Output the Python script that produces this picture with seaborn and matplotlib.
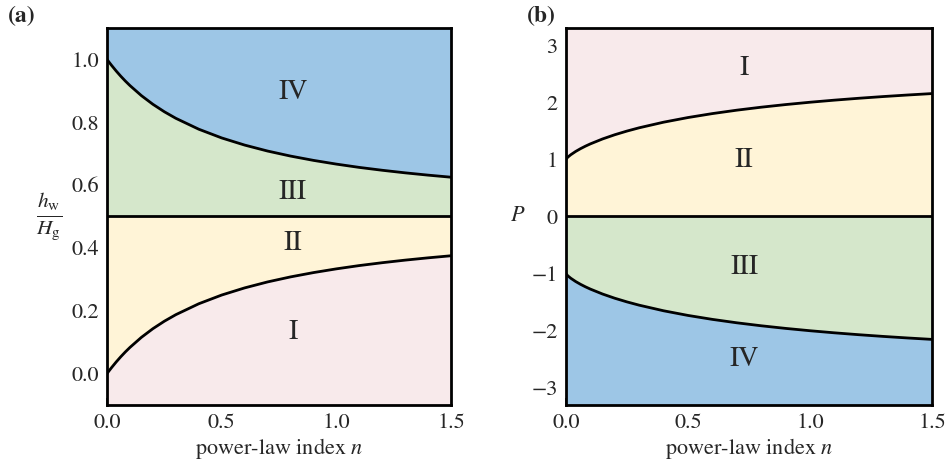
import numpy as np
import pandas as pd
import matplotlib
matplotlib.use("Agg")
import matplotlib.pyplot as plt
import seaborn as sns

# ---- data ----
n_vals = [0, 0.005, 0.01, 0.02, 0.04, 0.06, 0.08, 0.1, 0.15, 0.2, 0.25, 0.3,
          0.4, 0.5, 0.6, 0.7, 0.8, 0.9, 1.0, 1.1, 1.2, 1.3, 1.4, 1.5]
h_lower = [0.0, 0.0050, 0.0098, 0.0192, 0.0370, 0.0536, 0.0690, 0.0833, 0.1154,
           0.1429, 0.1667, 0.1875, 0.2222, 0.2500, 0.2727, 0.2917, 0.3077, 0.3214,
           0.3333, 0.3438, 0.3529, 0.3611, 0.3684, 0.3750]
h_upper = [1.0, 0.9950, 0.9902, 0.9808, 0.9630, 0.9464, 0.9310, 0.9167, 0.8846,
           0.8571, 0.8333, 0.8125, 0.7778, 0.7500, 0.7273, 0.7083, 0.6923, 0.6786,
           0.6667, 0.6562, 0.6471, 0.6389, 0.6316, 0.6250]
p_upper = [1.0, 1.0269, 1.0472, 1.0818, 1.1392, 1.1880, 1.2315, 1.2710, 1.3574,
           1.4310, 1.4953, 1.5526, 1.6506, 1.7321, 1.8013, 1.8611, 1.9131, 1.9591,
           2.0000, 2.0366, 2.0696, 2.0995, 2.1267, 2.1517]
p_lower = [-1.0, -1.0269, -1.0472, -1.0818, -1.1392, -1.1880, -1.2315, -1.2710, -1.3574,
           -1.4310, -1.4953, -1.5526, -1.6506, -1.7321, -1.8013, -1.8611, -1.9131, -1.9591,
           -2.0000, -2.0366, -2.0696, -2.0995, -2.1267, -2.1517]
h_mid = 0.5
p_mid = 0.0
region_labels = ["I", "II", "III", "IV"]
left_label_pos = [(0.81, 0.13), (0.81, 0.415), (0.81, 0.578), (0.81, 0.895)]
right_label_pos = [(0.73, 2.6), (0.73, 0.99), (0.73, -0.9), (0.73, -2.5)]
x_ticks = [0.0, 0.5, 1.0, 1.5]
left_yticks = [0.0, 0.2, 0.4, 0.6, 0.8, 1.0]
right_yticks = [-3, -2, -1, 0, 1, 2, 3]

c_pink = "#f8eaeb"
c_yellow = "#fff4d7"
c_green = "#d5e7cb"
c_blue = "#9dc6e6"

sns.set_style("ticks")
plt.rcParams["font.family"] = ["STIXGeneral", "Liberation Serif", "DejaVu Serif"]
plt.rcParams["mathtext.fontset"] = "stix"
plt.rcParams["xtick.direction"] = "in"
plt.rcParams["ytick.direction"] = "in"

df = pd.DataFrame({"n": n_vals, "hl": h_lower, "hu": h_upper, "pu": p_upper, "pl": p_lower})

fig = plt.figure(figsize=(9.48, 4.61), dpi=100)
ax1 = fig.add_axes([0.1129, 0.1215, 0.3629, 0.8178])
ax2 = fig.add_axes([0.5970, 0.1215, 0.3861, 0.8178])

n = np.array(n_vals)
# Left panel
ax1.set_xlim(0, 1.5)
ax1.set_ylim(-0.1, 1.1)
ax1.fill_between(n, -0.1, df["hl"], color=c_pink, lw=0)
ax1.fill_between(n, df["hl"], h_mid, color=c_yellow, lw=0)
ax1.fill_between(n, h_mid, df["hu"], color=c_green, lw=0)
ax1.fill_between(n, df["hu"], 1.1, color=c_blue, lw=0)
sns.lineplot(data=df, x="n", y="hl", ax=ax1, color="black", lw=2, sort=False)
sns.lineplot(data=df, x="n", y="hu", ax=ax1, color="black", lw=2, sort=False)
ax1.axhline(h_mid, color="black", lw=2)
for lab, (x, y) in zip(region_labels, left_label_pos):
    ax1.text(x, y, lab, ha="center", va="center", fontsize=20)
ax1.set_yticks(left_yticks)
ax1.set_yticklabels([f"{v:.1f}" for v in left_yticks])
ax1.set_ylabel(r"$\frac{h_{\rm w}}{H_{\rm g}}$", rotation=0, fontsize=22, labelpad=16, va="center")

# Right panel
ax2.set_xlim(0, 1.5)
ax2.set_ylim(-3.3, 3.3)
ax2.fill_between(n, df["pu"], 3.3, color=c_pink, lw=0)
ax2.fill_between(n, p_mid, df["pu"], color=c_yellow, lw=0)
ax2.fill_between(n, df["pl"], p_mid, color=c_green, lw=0)
ax2.fill_between(n, -3.3, df["pl"], color=c_blue, lw=0)
sns.lineplot(data=df, x="n", y="pu", ax=ax2, color="black", lw=2, sort=False)
sns.lineplot(data=df, x="n", y="pl", ax=ax2, color="black", lw=2, sort=False)
ax2.axhline(p_mid, color="black", lw=2)
for lab, (x, y) in zip(region_labels, right_label_pos):
    ax2.text(x, y, lab, ha="center", va="center", fontsize=20)
ax2.set_yticks(right_yticks)
ax2.set_yticklabels([f"{v}".replace("-", "\u2212") for v in right_yticks])
ax2.set_ylabel(r"$P$", rotation=0, fontsize=16, labelpad=10, va="center")

for ax in (ax1, ax2):
    ax.set_xticks(x_ticks)
    ax.set_xticklabels([f"{v:.1f}" for v in x_ticks])
    ax.set_xlabel(r"power-law index $n$", fontsize=16, labelpad=2)
    ax.tick_params(labelsize=16, width=1.3, length=5, pad=6)
    for s in ax.spines.values():
        s.set_linewidth(2)
        s.set_color("black")

fig.text(0.008, 0.965, "(a)", fontsize=17, fontweight="bold", va="center")
fig.text(0.556, 0.965, "(b)", fontsize=17, fontweight="bold", va="center")

fig.savefig("out.png", dpi=100)
